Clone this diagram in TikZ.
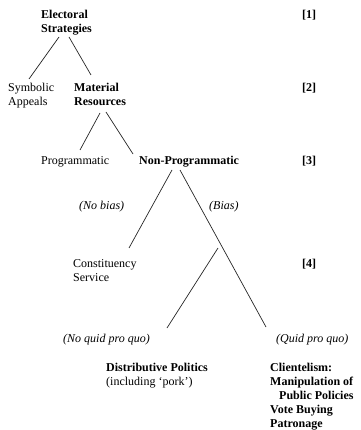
\documentclass[tikz,border=0pt]{standalone}
\usepackage{fontspec}
\setmainfont{Liberation Serif}
\begin{document}
\begin{tikzpicture}[x=1pt,y=-1pt,
  txt/.style={anchor=base west,inner sep=0pt,align=left,font=\fontsize{12}{14}\selectfont},
  btxt/.style={txt,font=\fontsize{12}{14}\selectfont\bfseries},
  itxt/.style={txt,font=\fontsize{12}{14}\selectfont\itshape},
  edge/.style={line width=0.7pt,draw=black!85}]
\useasboundingbox (0,0) rectangle (360,430);
% level labels
\node[btxt] (l1) at (302,19) {[1]};
\node[btxt] (l2) at (302,92) {[2]};
\node[btxt] (l3) at (302,165) {[3]};
\node[btxt] (l4) at (302,267) {[4]};
% nodes (multi-line nodes: base = baseline of last line)
\node[btxt] (es) at (41,33) {Electoral\\Strategies};
\node[txt] (sa) at (8,106) {Symbolic\\Appeals};
\node[btxt] (mr) at (74,106) {Material\\Resources};
\node[txt] (pr) at (41,165) {Programmatic};
\node[btxt] (np) at (139,165) {Non-Programmatic};
\node[itxt] (nb) at (79,209) {(No bias)};
\node[itxt] (bi) at (209,209) {(Bias)};
\node[txt] (cs) at (73,281) {Constituency\\Service};
\node[itxt] (nq) at (63,342) {(No quid pro quo)};
\node[itxt] (qq) at (276,342) {(Quid pro quo)};
\node[txt] (dp) at (106,385) {\textbf{Distributive Politics}\\(including ‘pork’)};
\node[btxt] (cl) at (270,427) {Clientelism:\\Manipulation of\\\hspace*{9pt}Public Policies\\Vote Buying\\Patronage};
% connector end points
\coordinate (es1) at (59,37);  \coordinate (sa1) at (29,79);
\coordinate (es2) at (69,37);  \coordinate (mr1) at (91,75);
\coordinate (mr2) at (100,113); \coordinate (pr1) at (80,150);
\coordinate (mr3) at (106,112); \coordinate (np1) at (133,154);
\coordinate (np2) at (172,170); \coordinate (cs1) at (129,248);
\coordinate (np3) at (180,170); \coordinate (qq1) at (266,327);
\coordinate (br1) at (218,248); \coordinate (nq1) at (167,328);
\draw[edge] (es1) -- (sa1);
\draw[edge] (es2) -- (mr1);
\draw[edge] (mr2) -- (pr1);
\draw[edge] (mr3) -- (np1);
\draw[edge] (np2) -- (cs1);
\draw[edge] (np3) -- (qq1);
\draw[edge] (br1) -- (nq1);
\end{tikzpicture}
\end{document}
